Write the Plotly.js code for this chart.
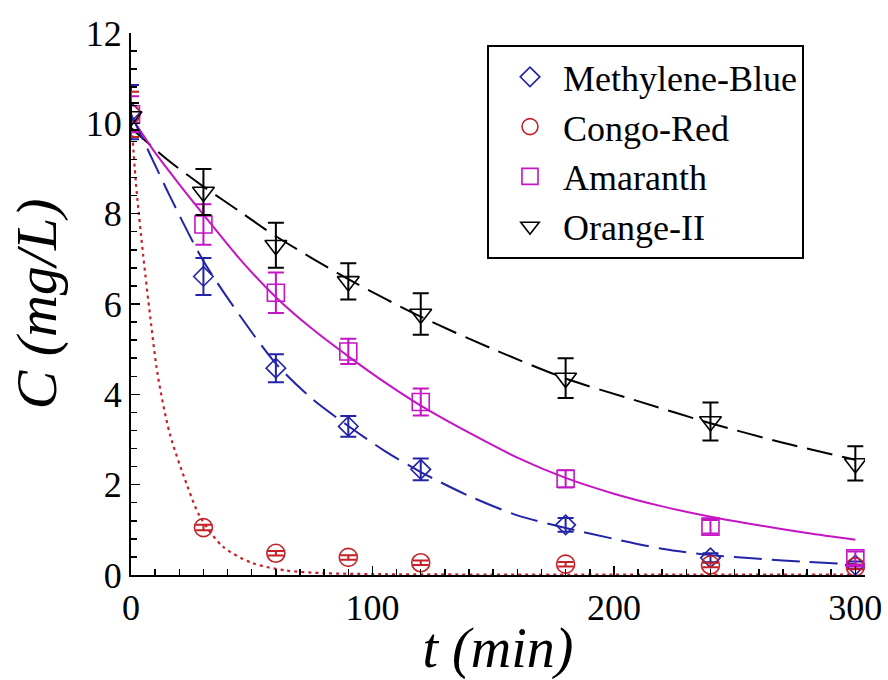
<!DOCTYPE html>
<html>
<head>
<meta charset="utf-8">
<script src="https://cdn.plot.ly/plotly-3.0.1.min.js"></script>
<style>
html,body{margin:0;padding:0;background:#fff;}
#chart{width:888px;height:680px;}
</style>
</head>
<body>
<div id="chart"></div>
<script>
// Measured data (t in min, C in mg/L)
const tData = [0, 30, 60, 90, 120, 180, 240, 300];
const mbC   = [10.25, 6.61, 4.58, 3.29, 2.34, 1.11, 0.38, 0.22];
const mbErr = [0.6, 0.41, 0.31, 0.23, 0.24, 0.15, 0.1, 0.08];
const crC   = [10.2, 1.05, 0.48, 0.39, 0.27, 0.24, 0.22, 0.18];
const crErr = [0.5, 0.06, 0.05, 0.05, 0.05, 0.05, 0.05, 0.05];
const amC   = [10.2, 7.76, 6.25, 4.95, 3.83, 2.13, 1.07, 0.37];
const amErr = [0.4, 0.45, 0.45, 0.28, 0.3, 0.19, 0.15, 0.15];
const orC   = [10.15, 8.48, 7.30, 6.50, 5.78, 4.36, 3.40, 2.47];
const orErr = [0.3, 0.51, 0.5, 0.4, 0.46, 0.44, 0.42, 0.38];

// Fitted curves
const fitT_MB = [0, 8, 16, 30, 45, 60, 75, 90, 105, 120, 140, 160, 180, 200, 220, 240, 260, 280, 300];
const fitC_MB = [10.2, 9.3, 8.4, 6.95, 5.75, 4.68, 3.9, 3.3, 2.75, 2.28, 1.75, 1.32, 1.04, 0.8, 0.58, 0.44, 0.36, 0.29, 0.24];
const fitT_CR = [0, 2, 5, 8, 11, 16, 23, 28.5, 38, 50, 64, 80, 100, 150, 200, 250, 300];
const fitC_CR = [10.2, 8.7, 7.1, 5.7, 4.45, 3.14, 2.02, 1.3, 0.63, 0.27, 0.1, 0.04, 0.02, 0.01, 0.01, 0.01, 0.01];
const fitT_AM = [0, 10, 20, 30, 45, 60, 75, 90, 105, 120, 140, 160, 180, 200, 220, 240, 260, 280, 300];
const fitC_AM = [10.15, 9.35, 8.65, 7.98, 7.0, 6.15, 5.45, 4.84, 4.27, 3.75, 3.15, 2.6, 2.15, 1.8, 1.52, 1.29, 1.1, 0.93, 0.78];
const fitT_OR = [0, 15, 30, 45, 60, 90, 120, 150, 180, 210, 240, 270, 300];
const fitC_OR = [9.9, 9.2, 8.6, 8.05, 7.5, 6.55, 5.72, 5.0, 4.35, 3.85, 3.36, 2.93, 2.55];

const seriesNames = ['Methylene-Blue', 'Congo-Red', 'Amaranth', 'Orange-II'];

const cMB = '#2323a8', cCR = '#c42026', cAM = '#c414c4', cOR = '#000000';
const serif = 'serif';

function fit(x, y, color, dash, w) {
  return {x: x, y: y, type: 'scatter', mode: 'lines', showlegend: false, hoverinfo: 'skip',
          line: {color: color, width: w || 2, dash: dash, shape: 'spline', smoothing: 0.8}};
}
function pts(name, y, err, color, symbol, size) {
  return {x: tData, y: y, name: name, type: 'scatter', mode: 'markers',
          marker: {symbol: symbol, size: size, color: color, line: {color: color, width: 1.6}},
          error_y: {type: 'data', array: err, visible: true, color: color, thickness: 2, width: 8}};
}

const traces = [
  fit(fitT_OR, fitC_OR, cOR, '26px,10px', 2),
  fit(fitT_AM, fitC_AM, cAM, 'solid', 2),
  fit(fitT_MB, fitC_MB, cMB, '28px,10px', 2),
  fit(fitT_CR, fitC_CR, cCR, '3px,4px', 2.2),
  pts(seriesNames[0], mbC, mbErr, cMB, 'diamond-open', 15),
  pts(seriesNames[1], crC, crErr, cCR, 'circle-open', 18),
  pts(seriesNames[2], amC, amErr, cAM, 'square-open', 17),
  pts(seriesNames[3], orC, orErr, cOR, 'triangle-down-open', 19)
];

const layout = {
  width: 888, height: 680,
  margin: {l: 131, r: 23, t: 33, b: 105},
  paper_bgcolor: '#fff', plot_bgcolor: '#fff',
  font: {family: serif, color: '#000', size: 36},
  showlegend: true,
  legend: {x: 0.485, y: 0.978, xanchor: 'left', yanchor: 'top',
           bordercolor: '#000', borderwidth: 2, bgcolor: '#fff',
           font: {family: serif, size: 36, color: '#000'}, indentation: 8, itemwidth: 56, traceorder: 'normal'},
  xaxis: {range: [0, 304], showgrid: false, zeroline: false, showline: true, linecolor: '#000', linewidth: 2,
          ticks: 'inside', ticklen: 9, tickwidth: 1.5, tickcolor: '#000', dtick: 100, tick0: 0,
          minor: {dtick: 10, ticks: 'inside', ticklen: 6, tickwidth: 1.5, tickcolor: '#000'},
          tickfont: {family: serif, size: 36, color: '#000'},
          title: {text: '<i>t (min)</i>', font: {family: serif, size: 56, color: '#000'}, standoff: 6}},
  yaxis: {range: [0, 12], showgrid: false, zeroline: false, showline: true, linecolor: '#000', linewidth: 2,
          ticks: 'inside', ticklen: 9, tickwidth: 1.5, tickcolor: '#000', dtick: 2, tick0: 0,
          minor: {dtick: 0.4, ticks: 'inside', ticklen: 6, tickwidth: 1.5, tickcolor: '#000'},
          tickfont: {family: serif, size: 36, color: '#000'},
          title: {text: '<i>C (mg/L)</i>', font: {family: serif, size: 58, color: '#000'}, standoff: 10}}
};

Plotly.newPlot('chart', traces, layout, {displayModeBar: false, staticPlot: true});
</script>
</body>
</html>
